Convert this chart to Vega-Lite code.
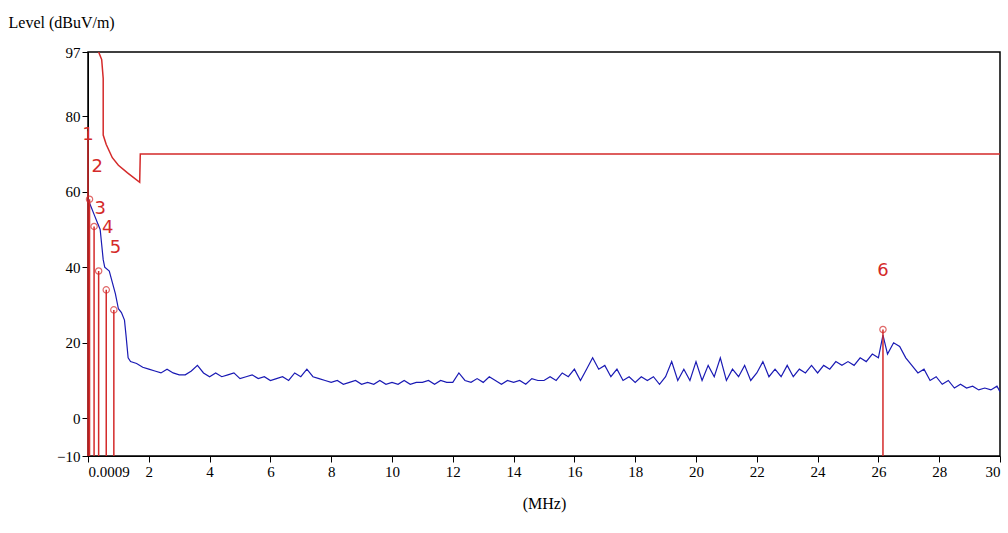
{
"$schema":"https://vega.github.io/schema/vega-lite/v6.json",
"width":912,"height":404,
"autosize":{"type":"none"},
"padding":{"left":88,"top":52,"right":8,"bottom":77},
"background":"white",
"config":{"view":{"stroke":"black","strokeWidth":1.5},"font":"Liberation Serif",
"axis":{"grid":false,"domainColor":"black","tickColor":"black","labelColor":"black","titleColor":"black","labelFontSize":15,"titleFontSize":16,"titleFontWeight":"normal","tickSize":6,"labelFont":"Liberation Serif","titleFont":"Liberation Serif"}},
"datasets":{
"trace":[
{"f":0.0009,"v":58},{"f":0.1,"v":56},{"f":0.2,"v":54},{"f":0.3,"v":52},{"f":0.4,"v":50},{"f":0.45,"v":46},{"f":0.5,"v":42},{"f":0.55,"v":40},{"f":0.7,"v":39},{"f":0.8,"v":36},{"f":0.9,"v":33},{"f":1.0,"v":29},{"f":1.1,"v":28},{"f":1.2,"v":26},{"f":1.25,"v":22},{"f":1.32,"v":16},
{"f":1.4,"v":15},{"f":1.6,"v":14.5},{"f":1.8,"v":13.5},{"f":2.0,"v":13},{"f":2.2,"v":12.5},{"f":2.4,"v":12},{"f":2.6,"v":13},{"f":2.8,"v":12},{"f":3.0,"v":11.5},{"f":3.2,"v":11.5},{"f":3.4,"v":12.5},{"f":3.6,"v":14},{"f":3.8,"v":12},{"f":4.0,"v":11},{"f":4.2,"v":12},{"f":4.4,"v":11},{"f":4.6,"v":11.5},{"f":4.8,"v":12},{"f":5.0,"v":10.5},{"f":5.2,"v":11},{"f":5.4,"v":11.5},{"f":5.6,"v":10.5},{"f":5.8,"v":11},{"f":6.0,"v":10},{"f":6.2,"v":10.5},{"f":6.4,"v":11},{"f":6.6,"v":10},{"f":6.8,"v":12},{"f":7.0,"v":11},{"f":7.2,"v":13},{"f":7.4,"v":11},{"f":7.6,"v":10.5},{"f":7.8,"v":10},{"f":8.0,"v":9.5},{"f":8.2,"v":10},{"f":8.4,"v":9},{"f":8.6,"v":9.5},{"f":8.8,"v":10},{"f":9.0,"v":9},{"f":9.2,"v":9.5},{"f":9.4,"v":9},{"f":9.6,"v":10},{"f":9.8,"v":9},{"f":10.0,"v":9.5},{"f":10.2,"v":9},{"f":10.4,"v":10},{"f":10.6,"v":9},{"f":10.8,"v":9.5},{"f":11.0,"v":9.5},{"f":11.2,"v":10},{"f":11.4,"v":9},{"f":11.6,"v":10},{"f":11.8,"v":9.5},{"f":12.0,"v":9.5},{"f":12.2,"v":12},{"f":12.4,"v":10},{"f":12.6,"v":9.5},{"f":12.8,"v":10.5},{"f":13.0,"v":9.5},{"f":13.2,"v":11},{"f":13.4,"v":10},{"f":13.6,"v":9},{"f":13.8,"v":10},{"f":14.0,"v":9.5},{"f":14.2,"v":10},{"f":14.4,"v":9},{"f":14.6,"v":10.5},{"f":14.8,"v":10},{"f":15.0,"v":10},{"f":15.2,"v":11},{"f":15.4,"v":10},{"f":15.6,"v":12},{"f":15.8,"v":11},{"f":16.0,"v":13},{"f":16.2,"v":10},{"f":16.4,"v":13},{"f":16.6,"v":16},{"f":16.8,"v":13},{"f":17.0,"v":14},{"f":17.2,"v":11},{"f":17.4,"v":13},{"f":17.6,"v":10},{"f":17.8,"v":11},{"f":18.0,"v":9.5},{"f":18.2,"v":11},{"f":18.4,"v":10},{"f":18.6,"v":11},{"f":18.8,"v":9},{"f":19.0,"v":11},{"f":19.2,"v":15},{"f":19.4,"v":10},{"f":19.6,"v":13},{"f":19.8,"v":10},{"f":20.0,"v":15},{"f":20.2,"v":10},{"f":20.4,"v":14},{"f":20.6,"v":11},{"f":20.8,"v":16},{"f":21.0,"v":10},{"f":21.2,"v":13},{"f":21.4,"v":11},{"f":21.6,"v":14},{"f":21.8,"v":10},{"f":22.0,"v":12},{"f":22.2,"v":15},{"f":22.4,"v":11},{"f":22.6,"v":13},{"f":22.8,"v":11},{"f":23.0,"v":14},{"f":23.2,"v":11},{"f":23.4,"v":13},{"f":23.6,"v":12},{"f":23.8,"v":14},{"f":24.0,"v":12},{"f":24.2,"v":14},{"f":24.4,"v":13},{"f":24.6,"v":15},{"f":24.8,"v":14},{"f":25.0,"v":15},{"f":25.2,"v":14},{"f":25.4,"v":16},{"f":25.6,"v":15},{"f":25.8,"v":17},{"f":26.0,"v":16},{"f":26.15,"v":22},{"f":26.3,"v":17},{"f":26.5,"v":20},{"f":26.7,"v":19},{"f":26.9,"v":16},{"f":27.1,"v":14},{"f":27.3,"v":12},{"f":27.5,"v":13},{"f":27.7,"v":10},{"f":27.9,"v":11},{"f":28.1,"v":9},{"f":28.3,"v":10},{"f":28.5,"v":8},{"f":28.7,"v":9},{"f":28.9,"v":8},{"f":29.1,"v":8.5},{"f":29.3,"v":7.5},{"f":29.5,"v":8},{"f":29.7,"v":7.5},{"f":29.9,"v":8.5},{"f":30,"v":7}],
"limit":[{"o":1,"f":0.35,"v":97},{"o":2,"f":0.45,"v":95},{"o":3,"f":0.5,"v":90},{"o":4,"f":0.5,"v":75},{"o":5,"f":0.6,"v":72.5},{"o":6,"f":0.8,"v":69},{"o":7,"f":1.0,"v":67},{"o":8,"f":1.3,"v":65},{"o":9,"f":1.7,"v":62.5},{"o":10,"f":1.72,"v":70},{"o":11,"f":30,"v":70}],
"markers":[
{"m":"1","f":0.0009,"v":76,"lf":0.0,"lv":75,"c":false},
{"m":"2","f":0.05,"v":58,"lf":0.3,"lv":66.5,"c":true},
{"m":"3","f":0.2,"v":50.8,"lf":0.4,"lv":55.5,"c":true},
{"m":"4","f":0.35,"v":39,"lf":0.65,"lv":50.5,"c":true},
{"m":"5","f":0.6,"v":34,"lf":0.9,"lv":45,"c":true},
{"m":"","f":0.85,"v":28.7,"lf":0.85,"lv":28.7,"c":true},
{"m":"6","f":26.15,"v":23.5,"lf":26.15,"lv":39,"c":true}]
},
"layer":[
{"data":{"name":"limit"},"mark":{"type":"line","color":"#d42a2a","strokeWidth":1.5,"clip":true},
"encoding":{"x":{"field":"f","type":"quantitative","scale":{"domain":[0,30],"nice":false},
"axis":{"values":[0,2,4,6,8,10,12,14,16,18,20,22,24,26,28,30],"labelExpr":"datum.value==0?'0.0009':datum.label","titlePadding":16},"title":"(MHz)"},
"y":{"field":"v","type":"quantitative","scale":{"domain":[-10,97],"nice":false,"zero":false},
"axis":{"values":[-10,0,20,40,60,80,97],"titleAngle":0,"titleAlign":"left","titleX":-80,"titleY":-22},"title":"Level (dBuV/m)"},
"order":{"field":"o","type":"quantitative"}}},
{"data":{"name":"trace"},"mark":{"type":"line","color":"#1a1ab4","strokeWidth":1.2},
"encoding":{"x":{"field":"f","type":"quantitative"},"y":{"field":"v","type":"quantitative"}}},
{"data":{"name":"markers"},"mark":{"type":"rule","color":"#d42a2a","strokeWidth":1.5},
"encoding":{"x":{"field":"f","type":"quantitative"},"y":{"field":"v","type":"quantitative"},"y2":{"datum":-10}}},
{"data":{"name":"markers"},"transform":[{"filter":"datum.c"}],"mark":{"type":"point","shape":"circle","color":"#d42a2a","size":40,"strokeWidth":1.2},
"encoding":{"x":{"field":"f","type":"quantitative"},"y":{"field":"v","type":"quantitative"}}},
{"data":{"name":"markers"},"mark":{"type":"text","color":"#d42a2a","fontSize":18,"font":"DejaVu Sans","align":"center"},
"encoding":{"x":{"field":"lf","type":"quantitative"},"y":{"field":"lv","type":"quantitative"},"text":{"field":"m","type":"nominal"}}}
]
}
